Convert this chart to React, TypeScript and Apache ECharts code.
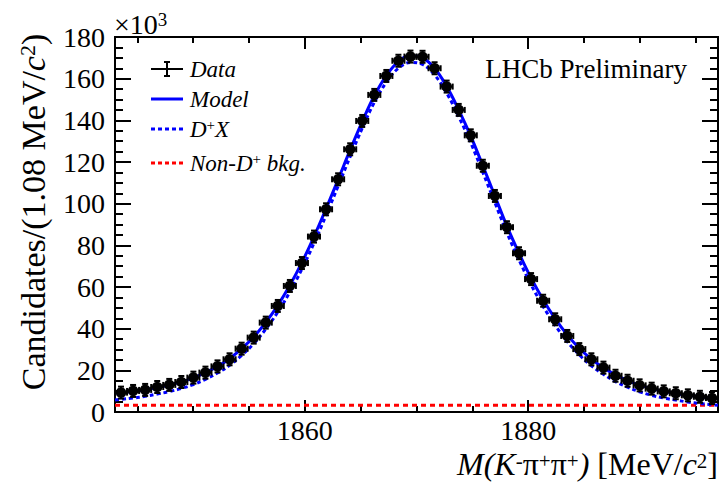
import React, { useEffect, useRef } from "react";
import * as echarts from "echarts";

const binLow = 1843;
const binWidth = 1.08;
const xMin = 1843;
const xMax = 1897;
const yMin = 0;
const yMax = 180;

// Candidates per bin (x10^3)
const counts = [
  9.3, 10.1, 10.6, 12.0, 13.0, 14.4, 16.5, 18.9, 21.9, 25.3,
  30.4, 35.7, 42.9, 50.9, 60.5, 71.5, 84.2, 97.3, 111.7, 126.1,
  139.7, 152.2, 161.3, 168.6, 170.6, 170.5, 165.0, 156.2, 145.0, 132.8,
  118.2, 103.7, 88.7, 76.2, 63.8, 53.4, 44.5, 36.5, 30.2, 25.3,
  21.3, 17.4, 15.0, 12.8, 11.2, 9.9, 9.0, 8.0, 7.3, 6.7,
];

// Model curve at bin centres
const modelVals = [
  9.3, 9.9, 10.7, 11.8, 13.0, 14.5, 16.4, 18.9, 21.9, 25.6,
  30.4, 36.0, 43.0, 51.2, 60.8, 71.8, 84.2, 97.6, 111.6, 125.8,
  139.4, 151.8, 161.5, 168.2, 171.0, 170.0, 165.0, 156.3, 145.0, 132.4,
  118.2, 103.7, 89.2, 76.2, 64.3, 53.9, 44.8, 37.0, 30.6, 25.4,
  21.3, 17.8, 15.1, 12.9, 11.2, 9.9, 8.9, 8.0, 7.3, 6.7,
];

// D+X component at bin centres
const dplusVals = [
  6.1, 6.7, 7.5, 8.6, 9.8, 11.3, 13.2, 15.7, 18.7, 22.4,
  27.2, 32.8, 39.8, 48.0, 57.6, 68.6, 81.0, 94.4, 108.4, 122.6,
  136.2, 148.6, 158.3, 165.0, 167.8, 166.8, 161.8, 153.1, 141.8, 129.2,
  115.0, 100.5, 86.0, 73.0, 61.1, 50.7, 41.6, 33.8, 27.4, 22.2,
  18.1, 14.6, 11.9, 9.7, 8.0, 6.7, 5.7, 4.8, 4.1, 3.5,
];

// model / D+X at the plot edges
const modelEdges = [9.0, 6.4];
const dplusEdges = [5.8, 3.2];

const bkgLevel = 3.2;

const xMajorTicks = [1860, 1880];
const xMinorTicks = [1845, 1850, 1855, 1865, 1870, 1875, 1885, 1890, 1895];

const FONT = "'Liberation Serif', 'Times New Roman', serif";

export default function App() {
  const ref = useRef<HTMLDivElement>(null);

  useEffect(() => {
    if (!ref.current) return;
    const chart = echarts.init(ref.current, undefined, { renderer: "svg" });

    const centers = counts.map((_, i) => binLow + binWidth * (i + 0.5));
    const dataPts = counts.map((v, i) => [centers[i], v]);
    const modelPts = [
      [xMin, modelEdges[0]],
      ...modelVals.map((v, i) => [centers[i], v]),
      [xMax, modelEdges[1]],
    ];
    const dplusPts = [
      [xMin, dplusEdges[0]],
      ...dplusVals.map((v, i) => [centers[i], v]),
      [xMax, dplusEdges[1]],
    ];
    const bkgPts = [
      [xMin, bkgLevel],
      [xMax, bkgLevel],
    ];

    const axisLine = { show: true, lineStyle: { color: "#000", width: 2 } };
    const baseX = {
      type: "value",
      min: xMin,
      max: xMax,
      splitLine: { show: false },
      axisLine,
    };
    const baseY = {
      type: "value",
      min: yMin,
      max: yMax,
      interval: 20,
      splitLine: { show: false },
      axisLine,
    };

    const sup = { fontFamily: FONT, verticalAlign: "top", fill: "#000" };

    const legendY = [69, 99, 129, 163];
    const legendText = 23;

    chart.setOption({
      animation: false,
      grid: { left: 115, right: 4, top: 37, bottom: 70, containLabel: false },
      xAxis: [
        {
          ...baseX,
          position: "bottom",
          axisTick: { show: true, inside: true, length: 12, customValues: xMajorTicks, lineStyle: { width: 2, color: "#000" } },
          axisLabel: {
            show: true,
            customValues: xMajorTicks,
            margin: 4,
            fontSize: 28,
            fontFamily: FONT,
            color: "#000",
            formatter: (v: number) => String(v),
          },
        },
        {
          ...baseX,
          position: "bottom",
          axisTick: { show: true, inside: true, length: 6, customValues: xMinorTicks, lineStyle: { width: 2, color: "#000" } },
          axisLabel: { show: false },
        },
        {
          ...baseX,
          position: "top",
          axisTick: { show: true, inside: true, length: 12, customValues: xMajorTicks, lineStyle: { width: 2, color: "#000" } },
          axisLabel: { show: false },
        },
        {
          ...baseX,
          position: "top",
          axisTick: { show: true, inside: true, length: 6, customValues: xMinorTicks, lineStyle: { width: 2, color: "#000" } },
          axisLabel: { show: false },
        },
      ],
      yAxis: [
        {
          ...baseY,
          position: "left",
          axisTick: { show: true, inside: true, length: 16, lineStyle: { width: 2, color: "#000" } },
          minorTick: { show: true, splitNumber: 4, length: 8, lineStyle: { width: 2, color: "#000" } },
          axisLabel: { show: true, margin: 10, fontSize: 28, fontFamily: FONT, color: "#000" },
        },
        {
          ...baseY,
          position: "right",
          axisTick: { show: true, inside: true, length: 16, lineStyle: { width: 2, color: "#000" } },
          minorTick: { show: true, splitNumber: 4, length: 8, lineStyle: { width: 2, color: "#000" } },
          axisLabel: { show: false },
        },
      ],
      series: [
        {
          type: "line",
          name: "Non-D+ bkg.",
          data: bkgPts,
          symbol: "none",
          lineStyle: { color: "#ff0000", width: 3, type: [5, 4] },
          z: 2,
        },
        {
          type: "line",
          name: "D+X",
          data: dplusPts,
          symbol: "none",
          smooth: 0.4,
          lineStyle: { color: "#0000ff", width: 3, type: [4, 3] },
          z: 3,
        },
        {
          type: "line",
          name: "Model",
          data: modelPts,
          symbol: "none",
          smooth: 0.4,
          lineStyle: { color: "#0000ff", width: 3 },
          z: 4,
        },
        {
          type: "custom",
          name: "Data",
          data: dataPts,
          z: 5,
          renderItem: (params: any, api: any) => {
            const x = api.value(0);
            const y = api.value(1);
            const c = api.coord([x, y]);
            const l = api.coord([x - binWidth / 2, y]);
            const r = api.coord([x + binWidth / 2, y]);
            const st = { stroke: "#000", lineWidth: 2 };
            return {
              type: "group",
              children: [
                { type: "line", shape: { x1: l[0], y1: l[1], x2: r[0], y2: r[1] }, style: st },
                { type: "line", shape: { x1: l[0], y1: l[1] - 3, x2: l[0], y2: l[1] + 3 }, style: st },
                { type: "line", shape: { x1: r[0], y1: r[1] - 3, x2: r[0], y2: r[1] + 3 }, style: st },
                { type: "line", shape: { x1: c[0] - 3, y1: c[1] - 6, x2: c[0] + 3, y2: c[1] - 6 }, style: st },
                { type: "line", shape: { x1: c[0] - 3, y1: c[1] + 6, x2: c[0] + 3, y2: c[1] + 6 }, style: st },
                { type: "line", shape: { x1: c[0], y1: c[1] - 6, x2: c[0], y2: c[1] + 6 }, style: st },
                { type: "circle", shape: { cx: c[0], cy: c[1], r: 5.3 }, style: { fill: "#000" } },
              ],
            };
          },
        },
      ],
      graphic: [
        // x10^3
        {
          type: "text",
          x: 114,
          y: 24,
          style: {
            text: "{r|\u00d710}{s|3}",
            rich: {
              r: { fontSize: 28, fontFamily: FONT, fill: "#000", verticalAlign: "bottom" },
              s: { ...sup, fontSize: 19, lineHeight: 20 },
            },
            verticalAlign: "middle",
            align: "left",
          },
        },
        // y title
        {
          type: "text",
          x: 33,
          y: 212,
          rotation: Math.PI / 2,
          style: {
            text: "{r|Candidates/(1.08 MeV/}{i|c}{s|2}{r|)}",
            rich: {
              r: { fontSize: 34, fontFamily: FONT, fill: "#000", verticalAlign: "bottom" },
              i: { fontSize: 34, fontFamily: FONT, fontStyle: "italic", fill: "#000", verticalAlign: "bottom" },
              s: { ...sup, fontSize: 22, lineHeight: 23 },
            },
            align: "center",
            verticalAlign: "middle",
          },
        },
        // x title
        {
          type: "text",
          x: 718,
          y: 465,
          style: {
            text: "{i|M(K}{s|-}{r|\u03c0}{s|+}{r|\u03c0}{s|+}{i|)}{r| [MeV/}{i|c}{s|2}{r|]}",
            rich: {
              r: { fontSize: 32, lineHeight: 30, fontFamily: FONT, fill: "#000", verticalAlign: "bottom" },
              i: { fontSize: 32, lineHeight: 30, fontFamily: FONT, fontStyle: "italic", fill: "#000", verticalAlign: "bottom" },
              s: { ...sup, fontSize: 21, lineHeight: 20 },
            },
            align: "right",
            verticalAlign: "middle",
          },
        },
        // LHCb Preliminary
        {
          type: "text",
          x: 687,
          y: 69,
          style: { text: "LHCb Preliminary", fontSize: 27, fontFamily: FONT, fill: "#000", align: "right", verticalAlign: "middle" },
        },
        // legend: Data icon
        { type: "line", shape: { x1: 151, y1: legendY[0], x2: 183, y2: legendY[0] }, style: { stroke: "#000", lineWidth: 2 } },
        { type: "line", shape: { x1: 167, y1: legendY[0] - 7, x2: 167, y2: legendY[0] + 7 }, style: { stroke: "#000", lineWidth: 2 } },
        { type: "line", shape: { x1: 164, y1: legendY[0] - 7, x2: 170, y2: legendY[0] - 7 }, style: { stroke: "#000", lineWidth: 2 } },
        { type: "line", shape: { x1: 164, y1: legendY[0] + 7, x2: 170, y2: legendY[0] + 7 }, style: { stroke: "#000", lineWidth: 2 } },
        // Model icon
        { type: "line", shape: { x1: 151, y1: legendY[1], x2: 183, y2: legendY[1] }, style: { stroke: "#0000ff", lineWidth: 3 } },
        // D+X icon
        { type: "line", shape: { x1: 151, y1: legendY[2], x2: 183, y2: legendY[2] }, style: { stroke: "#0000ff", lineWidth: 3, lineDash: [4, 3] } },
        // bkg icon
        { type: "line", shape: { x1: 151, y1: legendY[3], x2: 183, y2: legendY[3] }, style: { stroke: "#ff0000", lineWidth: 3, lineDash: [4, 3] } },
        {
          type: "text",
          x: 190,
          y: legendY[0],
          style: { text: "Data", fontSize: legendText, fontStyle: "italic", fontFamily: FONT, fill: "#000", verticalAlign: "middle" },
        },
        {
          type: "text",
          x: 190,
          y: legendY[1],
          style: { text: "Model", fontSize: legendText, fontStyle: "italic", fontFamily: FONT, fill: "#000", verticalAlign: "middle" },
        },
        {
          type: "text",
          x: 190,
          y: legendY[2],
          style: {
            text: "{i|D}{s|+}{i|X}",
            rich: {
              i: { fontSize: legendText, fontStyle: "italic", fontFamily: FONT, fill: "#000", verticalAlign: "bottom" },
              s: { ...sup, fontSize: 15, lineHeight: 16 },
            },
            verticalAlign: "middle",
          },
        },
        {
          type: "text",
          x: 190,
          y: legendY[3],
          style: {
            text: "{i|Non-D}{s|+}{i| bkg.}",
            rich: {
              i: { fontSize: legendText, fontStyle: "italic", fontFamily: FONT, fill: "#000", verticalAlign: "bottom" },
              s: { ...sup, fontSize: 15, lineHeight: 16 },
            },
            verticalAlign: "middle",
          },
        },
      ],
    });

    return () => chart.dispose();
  }, []);

  return (
    <div
      ref={ref}
      style={{ position: "fixed", left: 0, top: 0, width: 722, height: 482, background: "#fff" }}
    />
  );
}
